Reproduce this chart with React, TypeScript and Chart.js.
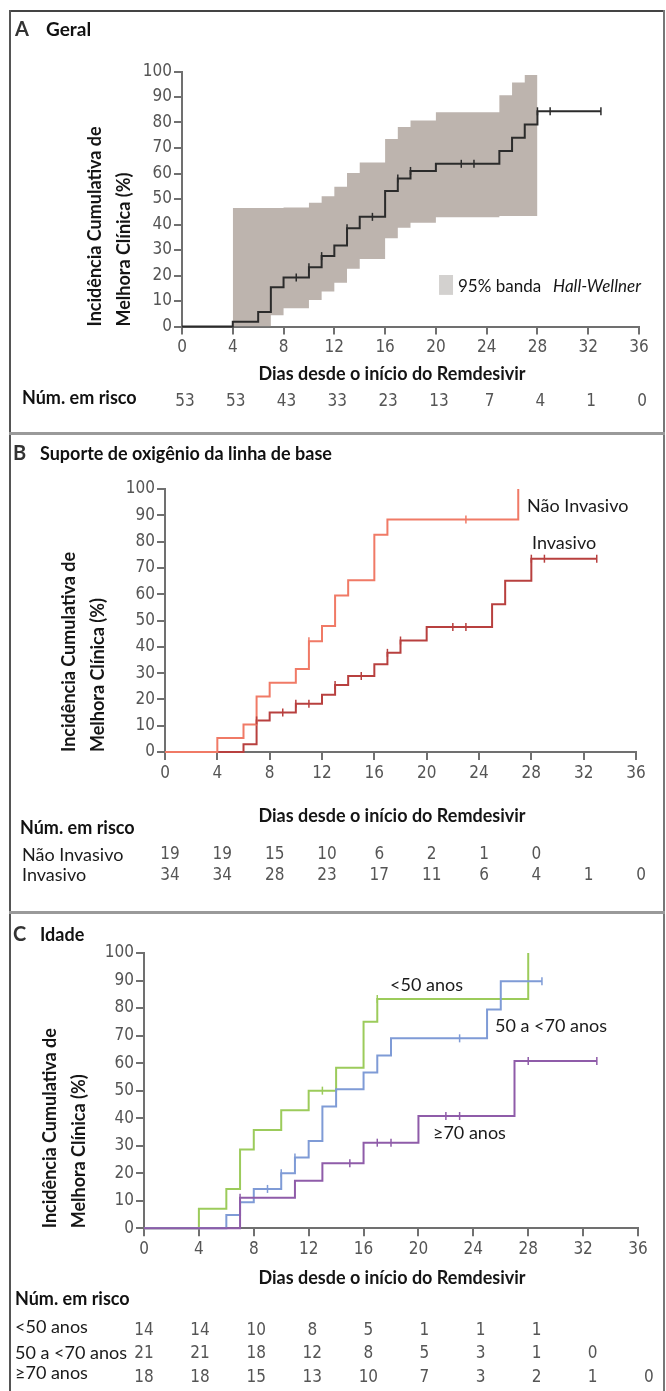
import React, { useEffect, useRef } from "react";
import { Chart, registerables } from "chart.js";

Chart.register(...registerables);

// ---------------- DATA ----------------
const riskDays = [0, 4, 8, 12, 16, 20, 24, 28, 32, 36];

// Panel A – Geral
const geralDays = [0, 4, 6, 7, 8, 10, 11, 12, 13, 14, 16, 17, 18, 20, 25, 26, 27, 28, 33];
const geralVals = [0, 1.9, 5.7, 15.4, 19.2, 23.2, 27.6, 31.8, 38.5, 43.0, 53.1, 58.0, 61.0, 63.8, 68.8, 74.0, 79.2, 84.4, 84.4];
const geralCensor = [9, 10, 11, 13, 15, 17, 18, 22, 23, 28, 29, 33];
const bandDays = [4, 7, 8, 10, 11, 12, 13, 14, 16, 17, 18, 20, 25, 26, 27, 28];
const bandUpper = [46.5, 46.5, 46.7, 48.5, 51.1, 54.8, 60.2, 64.3, 73.5, 78.2, 80.8, 84.0, 90.7, 95.7, 98.6, 98.6];
const bandLower = [0, 4.4, 7.2, 10.4, 13.7, 17.2, 22.6, 26.5, 34.6, 38.7, 40.7, 42.8, 43.3, 43.3, 43.3, 43.3];
const geralRisk = [53, 53, 43, 33, 23, 13, 7, 4, 1, 0];

// Panel B – Suporte de oxigênio
const naoDays = [0, 4, 6, 7, 8, 10, 11, 12, 13, 14, 16, 17, 27];
const naoVals = [0, 5.3, 10.5, 21.1, 26.3, 31.6, 42.1, 47.9, 59.5, 65.3, 82.6, 88.4, 100];
const naoCensor = [11, 23];
const invDays = [0, 6, 7, 8, 10, 12, 13, 14, 16, 17, 18, 20, 25, 26, 28, 33];
const invVals = [0, 2.9, 12.0, 15.0, 18.3, 21.8, 25.5, 28.9, 33.4, 37.7, 42.4, 47.5, 56.2, 65.1, 73.5, 73.5];
const invCensor = [7, 9, 10, 11, 13, 15, 17, 18, 22, 23, 28, 29, 33];
const naoRisk = [19, 19, 15, 10, 6, 2, 1, 0];
const invRisk = [34, 34, 28, 23, 17, 11, 6, 4, 1, 0];

// Panel C – Idade
const u50Days = [0, 4, 6, 7, 8, 10, 12, 14, 16, 17, 28];
const u50Vals = [0, 7.1, 14.3, 28.6, 35.7, 42.9, 50.0, 58.3, 75.0, 83.3, 100];
const u50Censor = [13, 17];
const m50Days = [0, 6, 7, 8, 10, 11, 12, 13, 14, 16, 17, 18, 25, 26, 29];
const m50Vals = [0, 4.8, 9.5, 14.3, 20.0, 25.7, 31.7, 44.2, 50.5, 56.6, 62.8, 69.0, 79.5, 89.7, 89.7];
const m50Censor = [9, 10, 11, 23, 29];
const o70Days = [0, 7, 11, 13, 16, 20, 27, 33];
const o70Vals = [0, 11.1, 17.3, 23.6, 31.1, 40.8, 60.8, 60.8];
const o70Censor = [7, 15, 17, 18, 22, 23, 28, 33];
const u50Risk = [14, 14, 10, 8, 5, 1, 1, 1];
const m50Risk = [21, 21, 18, 12, 8, 5, 3, 1, 0];
const o70Risk = [18, 18, 15, 13, 10, 7, 3, 2, 1, 0];

const yTitle = ["Incidência Cumulativa de", "Melhora Clínica (%)"];
const xTitle = "Dias desde o início do Remdesivir";

// ---------------- STYLE ----------------
const TXT = "Lato, 'Open Sans', 'Noto Sans', sans-serif";
const NUM = "'Liberation Sans Narrow', 'DejaVu Sans Condensed', 'Roboto Condensed', 'Liberation Sans', sans-serif";
const AXIS = "#707070";
const TICKTXT = "#555555";

const steps = (days: number[], vals: number[]) => days.map((d, i) => ({ x: d, y: vals[i] }));
const censors = (days: number[], vals: number[], cd: number[]) =>
  cd.map((c) => {
    let v = 0;
    days.forEach((d, i) => {
      if (d <= c) v = vals[i];
    });
    return { x: c, y: v };
  });

const stepLine = (data: any[], color: string, order = 1) => ({
  data,
  borderColor: color,
  borderWidth: 2,
  pointRadius: 0,
  stepped: "before",
  fill: false,
  clip: false,
  order,
});
const censorSet = (data: any[], color: string) => ({
  data,
  showLine: false,
  pointStyle: "line",
  rotation: 90,
  pointRadius: 4,
  pointBorderWidth: 1.5,
  borderColor: color,
  backgroundColor: color,
  clip: false,
  order: 0,
});

function txt(ctx: CanvasRenderingContext2D, s: string, x: number, y: number, font: string, color = "#111", align: CanvasTextAlign = "left") {
  ctx.font = font;
  ctx.fillStyle = color;
  ctx.textAlign = align;
  ctx.textBaseline = "middle";
  ctx.fillText(s, x, y);
}

function drawRisk(chart: any, values: number[], y: number, off: (d: number) => number) {
  const ctx = chart.ctx;
  const xs = chart.scales.x;
  values.forEach((v, i) => {
    const d = riskDays[i];
    txt(ctx, String(v), xs.getPixelForValue(d) + off(d), y, `17px ${NUM}`, TICKTXT, "center");
  });
}

function buildConfig(spec: any) {
  const grid = { drawOnChartArea: false, drawTicks: true, tickLength: 8, color: AXIS, lineWidth: 2 };
  const border = { display: true, color: AXIS, width: 2 };
  return {
    type: "line",
    data: { datasets: spec.datasets },
    options: {
      animation: false,
      responsive: false,
      devicePixelRatio: 1,
      events: [],
      layout: { autoPadding: false, padding: { left: 0, right: spec.padR, top: spec.padT, bottom: spec.padB } },
      plugins: { legend: { display: false }, tooltip: { enabled: false }, title: { display: false } },
      scales: {
        x: {
          type: "linear",
          min: 0,
          max: 36,
          afterFit: (s: any) => {
            s.height = 40;
          },
          ticks: { stepSize: 4, color: TICKTXT, font: { family: NUM, size: 17 }, padding: 3, maxRotation: 0, autoSkip: false },
          grid,
          border,
        },
        y: {
          type: "linear",
          min: 0,
          max: 100,
          afterFit: (s: any) => {
            s.width = spec.yW;
          },
          ticks: { stepSize: 10, color: TICKTXT, font: { family: NUM, size: 17 }, padding: 2, autoSkip: false },
          grid,
          border,
          title: {
            display: true,
            text: yTitle,
            align: "start",
            color: "#151515",
            font: { family: TXT, size: 18, weight: "bold", lineHeight: 1.6 },
            padding: { top: spec.titlePad, bottom: 0 },
          },
        },
      },
    },
    plugins: [
      {
        id: "panelText",
        afterDraw: (chart: any) => {
          const ctx = chart.ctx;
          ctx.save();
          spec.draw(chart, ctx);
          ctx.restore();
        },
      },
    ],
  };
}

const panelA = {
  yW: 182,
  padR: 27,
  padT: 71.5,
  padB: 66.5,
  titlePad: 80.6,
  datasets: [
    stepLine(steps(geralDays, geralVals), "#2b2b2b", 1),
    censorSet(censors(geralDays, geralVals, geralCensor), "#2b2b2b"),
    { data: steps(bandDays, bandUpper), borderWidth: 0, pointRadius: 0, stepped: "before", fill: "+1", backgroundColor: "#bdb4ae", borderColor: "rgba(0,0,0,0)", order: 5 },
    { data: steps(bandDays, bandLower), borderWidth: 0, pointRadius: 0, stepped: "before", fill: false, borderColor: "rgba(0,0,0,0)", order: 5 },
  ],
  draw: (chart: any, ctx: CanvasRenderingContext2D) => {
    const xs = chart.scales.x;
    const ys = chart.scales.y;
    txt(ctx, "A", 15, 30, `bold 20px ${TXT}`, "#333");
    txt(ctx, "Geral", 46, 30, `bold 19px ${TXT}`);
    txt(ctx, xTitle, 392, 374, `bold 18px ${TXT}`, "#151515", "center");
    // legend
    const lx0 = xs.getPixelForValue(20.25);
    const lx1 = xs.getPixelForValue(21.35);
    const ly0 = ys.getPixelForValue(20.2);
    const ly1 = ys.getPixelForValue(12.4);
    ctx.fillStyle = "#d3d1cf";
    ctx.fillRect(lx0, ly0, lx1 - lx0, ly1 - ly0);
    const ty = ys.getPixelForValue(15.5);
    const tx = xs.getPixelForValue(21.74);
    txt(ctx, "95% banda", tx, ty, `17px ${TXT}`, "#151515");
    const w = ctx.measureText("95% banda").width;
    txt(ctx, "Hall-Wellner", tx + w + 12, ty, `italic 17px ${TXT}`, "#151515");
    // risk table
    txt(ctx, "Núm. em risco", 22, 398, `bold 18px ${TXT}`);
    drawRisk(chart, geralRisk, 402, () => 3);
  },
};

const panelB = {
  yW: 165,
  padR: 30,
  padT: 56,
  padB: 120,
  titlePad: 54.6,
  datasets: [
    stepLine(steps(naoDays, naoVals), "#f07a66", 1),
    stepLine(steps(invDays, invVals), "#b8403f", 2),
    censorSet(censors(naoDays, naoVals, naoCensor), "#f07a66"),
    censorSet(censors(invDays, invVals, invCensor), "#b8403f"),
  ],
  draw: (chart: any, ctx: CanvasRenderingContext2D) => {
    const xs = chart.scales.x;
    const ys = chart.scales.y;
    txt(ctx, "B", 13, 21, `bold 20px ${TXT}`, "#333");
    txt(ctx, "Suporte de oxigênio da linha de base", 40, 21, `bold 18px ${TXT}`);
    txt(ctx, "Não Invasivo", xs.getPixelForValue(27.67), ys.getPixelForValue(93.5), `18px ${TXT}`, "#1a1a1a");
    txt(ctx, "Invasivo", xs.getPixelForValue(28.05), ys.getPixelForValue(79.5), `18px ${TXT}`, "#1a1a1a");
    txt(ctx, xTitle, 392, 383, `bold 18px ${TXT}`, "#151515", "center");
    txt(ctx, "Núm. em risco", 20, 395, `bold 18px ${TXT}`);
    txt(ctx, "Não Invasivo", 22, 422, `18px ${TXT}`, "#1a1a1a");
    txt(ctx, "Invasivo", 22, 442, `18px ${TXT}`, "#1a1a1a");
    drawRisk(chart, naoRisk, 422, () => 5);
    drawRisk(chart, invRisk, 443, () => 5);
  },
};

const panelC = {
  yW: 144,
  padR: 28,
  padT: 41,
  padB: 122.7,
  titlePad: 35.6,
  datasets: [
    stepLine(steps(u50Days, u50Vals), "#9ccb5b", 3),
    stepLine(steps(m50Days, m50Vals), "#7f9bd6", 2),
    stepLine(steps(o70Days, o70Vals), "#8f5ca9", 1),
    censorSet(censors(u50Days, u50Vals, u50Censor), "#9ccb5b"),
    censorSet(censors(m50Days, m50Vals, m50Censor), "#7f9bd6"),
    censorSet(censors(o70Days, o70Vals, o70Censor), "#8f5ca9"),
  ],
  draw: (chart: any, ctx: CanvasRenderingContext2D) => {
    const xs = chart.scales.x;
    const ys = chart.scales.y;
    txt(ctx, "C", 13, 23, `bold 20px ${TXT}`, "#333");
    txt(ctx, "Idade", 40, 23, `bold 18px ${TXT}`);
    txt(ctx, "<50 anos", xs.getPixelForValue(17.93), ys.getPixelForValue(88.4), `18px ${TXT}`, "#1a1a1a");
    txt(ctx, "50 a <70 anos", xs.getPixelForValue(25.58), ys.getPixelForValue(73.5), `18px ${TXT}`, "#1a1a1a");
    txt(ctx, "≥70 anos", xs.getPixelForValue(21.06), ys.getPixelForValue(34.6), `18px ${TXT}`, "#1a1a1a");
    txt(ctx, xTitle, 392, 366, `bold 18px ${TXT}`, "#151515", "center");
    txt(ctx, "Núm. em risco", 15, 387, `bold 18px ${TXT}`);
    txt(ctx, "<50 anos", 15, 415, `18px ${TXT}`, "#1a1a1a");
    txt(ctx, "50 a <70 anos", 15, 441, `18px ${TXT}`, "#1a1a1a");
    txt(ctx, "≥70 anos", 15, 461, `18px ${TXT}`, "#1a1a1a");
    const off = (d: number) => d * 0.3;
    drawRisk(chart, u50Risk, 419, off);
    drawRisk(chart, m50Risk, 442, off);
    drawRisk(chart, o70Risk, 466, off);
  },
};

function Panel({ spec, top, height }: { spec: any; top: number; height: number }) {
  const ref = useRef<HTMLCanvasElement>(null);
  useEffect(() => {
    const chart = new Chart(ref.current as HTMLCanvasElement, buildConfig(spec) as any);
    return () => chart.destroy();
  }, [spec]);
  return (
    <canvas
      ref={ref}
      width={666}
      height={height}
      style={{ position: "absolute", left: 0, top, width: 666, height, display: "block" }}
    />
  );
}

export default function App() {
  return (
    <div style={{ position: "absolute", left: 0, top: 0, width: 666, height: 1391, background: "#fff", overflow: "hidden" }}>
      <Panel spec={panelA} top={0} height={433} />
      <Panel spec={panelB} top={433} height={479} />
      <Panel spec={panelC} top={912} height={479} />
      <div style={{ position: "absolute", left: 9, top: 10, width: 656, height: 2, background: "#444" }} />
      <div style={{ position: "absolute", left: 9, top: 10, width: 2, height: 1381, background: "#555" }} />
      <div style={{ position: "absolute", left: 663, top: 10, width: 2, height: 1381, background: "#777" }} />
      <div style={{ position: "absolute", left: 9, top: 432, width: 656, height: 3, background: "#9a9a9a" }} />
      <div style={{ position: "absolute", left: 9, top: 911, width: 656, height: 3, background: "#9a9a9a" }} />
    </div>
  );
}
